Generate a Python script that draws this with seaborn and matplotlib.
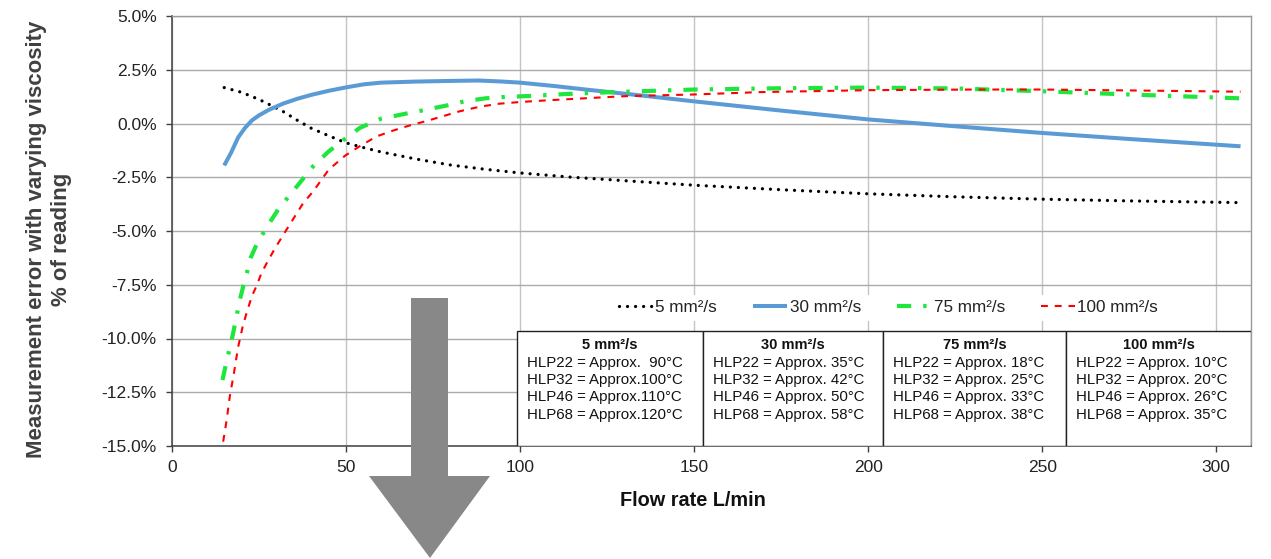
import numpy as np
import pandas as pd
import matplotlib
matplotlib.use("Agg")
import matplotlib.pyplot as plt
import matplotlib.ticker as mtick
from matplotlib.patches import Rectangle, Polygon
import seaborn as sns

# ---------------- data ----------------
flow_5 = [15, 20, 25, 28, 32, 36, 40, 45, 50, 55, 60, 70, 80, 90, 100, 115, 130,
          150, 175, 200, 225, 250, 275, 307]
err_5 = [1.67, 1.45, 1.12, 0.88, 0.55, 0.15, -0.22, -0.57, -0.9, -1.12, -1.32, -1.65,
         -1.93, -2.13, -2.3, -2.5, -2.66, -2.87, -3.08, -3.27, -3.41, -3.52, -3.6, -3.68]

flow_30 = [15, 17, 19, 21, 23, 25, 28, 32, 36, 40, 45, 50, 55, 60, 70, 80, 88, 95,
           100, 110, 120, 135, 150, 175, 200, 225, 250, 275, 307]
err_30 = [-1.95, -1.35, -0.65, -0.2, 0.15, 0.38, 0.65, 0.93, 1.15, 1.33, 1.52, 1.68,
          1.82, 1.9, 1.95, 1.98, 2.0, 1.95, 1.9, 1.74, 1.56, 1.3, 1.03, 0.6, 0.19,
          -0.13, -0.44, -0.72, -1.06]

flow_75 = [14.5, 15.5, 16.5, 17.5, 18.5, 19.5, 20.5, 21.6, 22.6, 24.5, 26.4, 28.3,
           30.5, 33, 36, 40.5, 45, 50, 54, 60, 66, 72, 79, 84, 90, 96, 103, 113, 125,
           150, 175, 200, 225, 250, 275, 307]
err_75 = [-11.93, -11.2, -10.5, -9.8, -9.0, -8.2, -7.55, -6.9, -6.25, -5.55, -5.05,
          -4.55, -4.0, -3.5, -2.9, -2.0, -1.3, -0.68, -0.2, 0.22, 0.42, 0.61, 0.84,
          1.03, 1.17, 1.24, 1.28, 1.37, 1.45, 1.58, 1.64, 1.67, 1.63, 1.5, 1.35, 1.17]

flow_100 = [14.7, 15.7, 16.6, 17.8, 19, 20.3, 21.4, 22.9, 24.3, 25.7, 27.2, 29.6,
            32.9, 35.3, 37.7, 40.6, 45, 49.7, 54, 58.8, 63.5, 68.3, 73, 82.7, 88.4,
            94, 100, 107, 116, 130, 150, 169, 200, 231, 250, 274, 307]
err_100 = [-14.8, -13.8, -12.7, -11.6, -10.4, -9.45, -8.83, -8.05, -7.55, -6.96, -6.5,
           -5.8, -4.94, -4.32, -3.7, -3.15, -2.15, -1.5, -1.05, -0.6, -0.33, -0.09,
           0.11, 0.57, 0.78, 0.92, 1.0, 1.07, 1.15, 1.27, 1.35, 1.46, 1.55, 1.58,
           1.58, 1.54, 1.48]

series_labels = ["5 mm²/s", "30 mm²/s", "75 mm²/s", "100 mm²/s"]

table_rows = [
    ["HLP22 = Approx.  90°C", "HLP32 = Approx.100°C", "HLP46 = Approx.110°C", "HLP68 = Approx.120°C"],
    ["HLP22 = Approx. 35°C", "HLP32 = Approx. 42°C", "HLP46 = Approx. 50°C", "HLP68 = Approx. 58°C"],
    ["HLP22 = Approx. 18°C", "HLP32 = Approx. 25°C", "HLP46 = Approx. 33°C", "HLP68 = Approx. 38°C"],
    ["HLP22 = Approx. 10°C", "HLP32 = Approx. 20°C", "HLP46 = Approx. 26°C", "HLP68 = Approx. 35°C"],
]

x_ticks = [0, 50, 100, 150, 200, 250, 300]
y_ticks = [5.0, 2.5, 0.0, -2.5, -5.0, -7.5, -10.0, -12.5, -15.0]

# ---------------- styling ----------------
sns.set_style("white")
plt.rcParams['font.family'] = ['Liberation Sans', 'DejaVu Sans']
plt.rcParams['axes.unicode_minus'] = False

W, H = 1271, 559
fig = plt.figure(figsize=(W / 100, H / 100), dpi=100)
ax = fig.add_axes([172 / W, 1 - 446 / H, (1251 - 172) / W, (446 - 16) / H])

styles = [
    dict(color="black", lw=2.35, linestyle=(0, (0.01, 2.45)), dash_capstyle="round"),
    dict(color="#5b9bd5", lw=2.9, linestyle="-", solid_capstyle="butt"),
    dict(color="#1ee63c", lw=3.0, linestyle=(0, (3.4, 2.9, 0.8, 2.9)), dash_capstyle="butt"),
    dict(color="#ff0000", lw=1.5, linestyle=(0, (3.3, 3.3)), dash_capstyle="butt"),
]
datasets = [(flow_5, err_5), (flow_30, err_30), (flow_75, err_75), (flow_100, err_100)]

for (xs, ys), lab, st in zip(datasets, series_labels, styles):
    df = pd.DataFrame({"flow": xs, "err": ys})
    sns.lineplot(data=df, x="flow", y="err", ax=ax, label=lab, sort=False,
                 estimator=None, zorder=3, **st)

ax.set_xlim(0, 310)
ax.set_ylim(-15, 5)
ax.set_xticks(x_ticks)
ax.set_yticks(y_ticks)
ax.yaxis.set_major_formatter(mtick.PercentFormatter(decimals=1))

ax.set_axisbelow(True)
ax.xaxis.grid(True, color="#c4c4c4", lw=1.0)
ax.yaxis.grid(True, color="#ababab", lw=1.0)

for side in ["left", "bottom"]:
    ax.spines[side].set_color("#404040")
    ax.spines[side].set_linewidth(1.1)
for side in ["top", "right"]:
    ax.spines[side].set_color("#9a9a9a")
    ax.spines[side].set_linewidth(1.0)

ax.tick_params(axis="both", which="major", bottom=True, left=True, direction="out",
               length=4, width=1, color="#404040", labelsize=12.5, labelcolor="#222222")
ax.tick_params(axis="y", pad=7)
ax.tick_params(axis="x", pad=6)

ax.set_xlabel("Flow rate L/min", fontsize=14.3, fontweight="bold", color="#111111")
ax.xaxis.set_label_coords(0.483, -0.105)
ax.set_ylabel("Measurement error with varying viscosity\n% of reading", fontsize=16,
              fontweight="bold", color="#404040", va="center", ha="center",
              multialignment="center")
ax.yaxis.set_label_coords(-0.114, 0.481)

# legend
handles, labels = ax.get_legend_handles_labels()
leg = ax.legend(handles, labels, ncol=4, loc="center", bbox_to_anchor=(0.664, 0.321),
                frameon=True, facecolor="white", edgecolor="none", framealpha=1,
                fancybox=False, fontsize=12.3, handlelength=2.0, handletextpad=0.15,
                columnspacing=2.1, borderpad=0.3)
for t in leg.get_texts():
    t.set_color("#222222")

# table of temperatures
col_edges = [(517 - 172) / 1079, (703 - 172) / 1079, (883 - 172) / 1079,
             (1066 - 172) / 1079, 1.0]
table_top = (446 - 331) / 430
header_y = (446 - 345) / 430
row_ys = [(446 - py) / 430 for py in (362.5, 380, 397.5, 415)]
for i, lab in enumerate(series_labels):
    x0, x1 = col_edges[i], col_edges[i + 1]
    ax.add_patch(Rectangle((x0, 0), x1 - x0, table_top, transform=ax.transAxes,
                           facecolor="white", edgecolor="#222222", lw=1.0, zorder=6))
    ax.text((x0 + x1) / 2, header_y, lab, transform=ax.transAxes, ha="center",
            va="center", fontsize=10.5, fontweight="bold", color="#111111", zorder=7)
    for ry, line in zip(row_ys, table_rows[i]):
        ax.text(x0 + 10 / 1079, ry, line, transform=ax.transAxes, ha="left",
                va="center", fontsize=10.8, color="#111111", zorder=7)

# big grey arrow (figure decoration)
arrow_px = np.array([(411, 298), (448, 298), (448, 476), (490, 476), (430, 558),
                     (369, 476), (411, 476)], dtype=float)
arrow_fig = np.column_stack([arrow_px[:, 0] / W, 1 - arrow_px[:, 1] / H])
fig.add_artist(Polygon(arrow_fig, closed=True, transform=fig.transFigure,
                       facecolor="#888888", edgecolor="none", zorder=20))

fig.savefig("out.png", dpi=100)
